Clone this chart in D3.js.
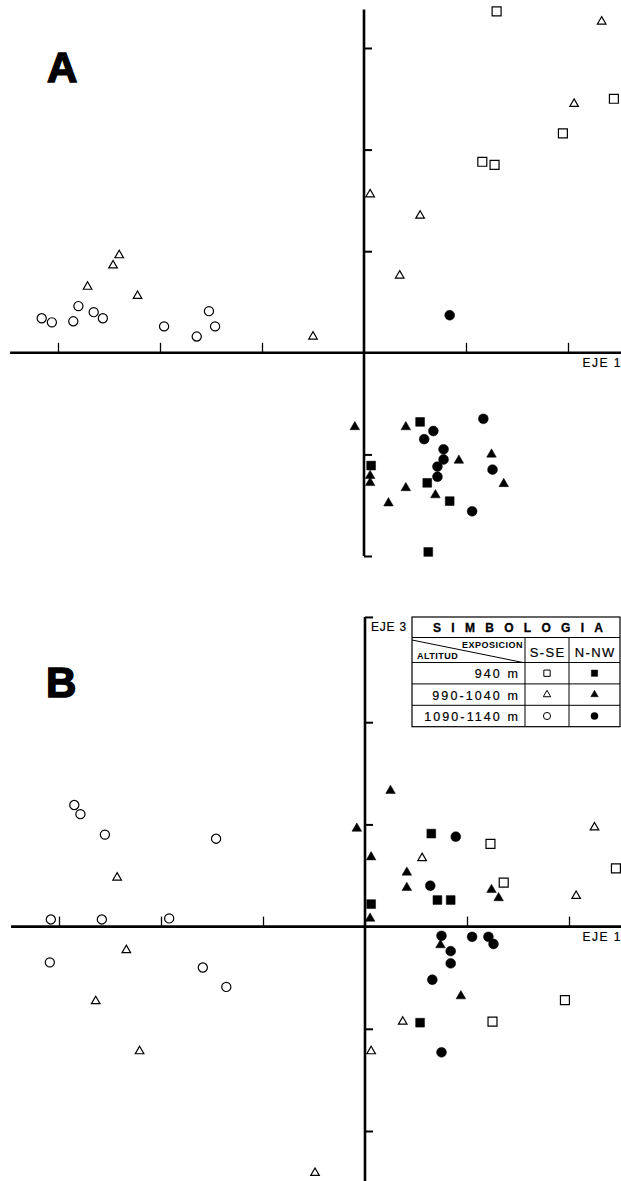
<!DOCTYPE html>
<html><head><meta charset="utf-8">
<script src="https://cdn.jsdelivr.net/npm/d3@7"></script>
<style>html,body{margin:0;padding:0;background:#fff}svg{display:block}</style>
</head><body>
<svg id="chart" width="621" height="1181"></svg>
<script>
// ---------- DATA (component scores) ----------
// Panel A: EJE 1 (x) vs EJE 2 (y)
const A_sq_open = [[1.30,3.36],[2.45,2.50],[1.95,2.16],[1.16,1.88],[1.28,1.85]];
const A_tri_open = [[-2.40,0.96],[-2.46,0.86],[-2.71,0.65],[-2.22,0.56],[-0.50,0.16],[0.06,1.56],[0.55,1.35],[0.35,0.76],[2.06,2.45],[2.33,3.26]];
const A_cir_open = [[-3.16,0.34],[-3.06,0.30],[-2.85,0.31],[-2.80,0.46],[-2.65,0.40],[-2.56,0.34],[-1.96,0.26],[-1.64,0.16],[-1.52,0.41],[-1.46,0.26]];
const A_sq_fill = [[0.55,-0.68],[0.07,-1.11],[0.62,-1.28],[0.84,-1.46],[0.63,-1.96]];
const A_tri_fill = [[-0.09,-0.73],[0.41,-0.73],[0.06,-1.21],[0.06,-1.28],[0.93,-1.06],[1.25,-1.00],[1.37,-1.29],[0.41,-1.33],[0.24,-1.48],[0.70,-1.40]];
const A_cir_fill = [[0.84,0.37],[1.17,-0.65],[0.68,-0.77],[0.59,-0.85],[0.78,-0.95],[0.78,-1.05],[0.72,-1.12],[0.72,-1.22],[1.26,-1.15],[1.06,-1.56]];
// Panel B: EJE 1 (x) vs EJE 3 (y)
const B_sq_open = [[1.23,0.81],[1.36,0.43],[2.46,0.57],[1.96,-0.72],[1.25,-0.93]];
const B_tri_open = [[-2.43,0.48],[-2.34,-0.23],[-2.64,-0.73],[-2.21,-1.22],[-0.49,-2.41],[0.56,0.67],[2.25,0.97],[2.07,0.30],[0.37,-0.93],[0.06,-1.22]];
const B_cir_open = [[-2.85,1.19],[-2.79,1.10],[-2.55,0.90],[-1.46,0.86],[-3.08,0.07],[-2.58,0.07],[-1.92,0.08],[-3.09,-0.35],[-1.59,-0.40],[-1.36,-0.59]];
const B_sq_fill = [[0.65,0.91],[0.71,0.26],[0.84,0.26],[0.06,0.22],[0.54,-0.94]];
const B_tri_fill = [[0.25,1.33],[-0.08,0.96],[0.06,0.68],[0.41,0.53],[0.41,0.38],[1.24,0.36],[1.31,0.28],[0.05,0.08],[0.74,-0.18],[0.94,-0.68]];
const B_cir_fill = [[0.89,0.88],[0.64,0.40],[0.75,-0.09],[1.05,-0.10],[1.21,-0.10],[1.26,-0.17],[0.84,-0.24],[0.84,-0.36],[0.66,-0.52],[0.75,-1.23]];

const xTicks = [-3,-2,-1,1,2];
const yTicksA = [-2,-1,1,2,3];
const yTicksB = [-2,-1,1,2,3.03];
const axisLabelX = "EJE 1";
const axisLabelYB = "EJE 3";
const legendTitle = "SIMBOLOGIA";
const legendRows = ["940 m","990-1040 m","1090-1140 m"];
const legendCols = ["S-SE","N-NW"];
const legendHeadTop = "EXPOSICION";
const legendHeadBottom = "ALTITUD";

// ---------- DRAW ----------
const svg = d3.select("#chart");
const font = "'Liberation Sans', Arial, sans-serif";

const panels = [
  {id:"A", x:d3.scaleLinear().domain([-3,2]).range([58,568]),
           y:d3.scaleLinear().domain([-2,3]).range([556,48]),
           yTop:3.38, yBot:-2, yTicks:yTicksA, letterPos:[47,82],
           series:[
             {d:A_sq_open, t:"sq", f:false},{d:A_tri_open, t:"tri", f:false},{d:A_cir_open, t:"cir", f:false},
             {d:A_sq_fill, t:"sq", f:true},{d:A_tri_fill, t:"tri", f:true},{d:A_cir_fill, t:"cir", f:true}]},
  {id:"B", x:d3.scaleLinear().domain([-3,2]).range([59,569]),
           y:d3.scaleLinear().domain([-2,3]).range([1131,620]),
           yTop:3.03, yBot:-2.6, yTicks:yTicksB, letterPos:[46,697],
           series:[
             {d:B_sq_open, t:"sq", f:false},{d:B_tri_open, t:"tri", f:false},{d:B_cir_open, t:"cir", f:false},
             {d:B_sq_fill, t:"sq", f:true},{d:B_tri_fill, t:"tri", f:true},{d:B_cir_fill, t:"cir", f:true}]}
];

const symType = {sq:d3.symbolSquare, tri:d3.symbolTriangle, cir:d3.symbolCircle};
const symSize = {sq:{o:80,f:78}, tri:{o:32,f:40}, cir:{o:66,f:76}};

panels.forEach(p => {
  const g = svg.append("g");
  const x0 = p.x(0), y0 = p.y(0);
  g.append("line").attr("x1", p.x(-3.47)).attr("x2", 621)
    .attr("y1", y0).attr("y2", y0).attr("stroke","#000").attr("stroke-width",2.6);
  g.append("line").attr("x1", x0).attr("x2", x0)
    .attr("y1", p.y(p.yTop)).attr("y2", p.y(p.yBot)).attr("stroke","#000").attr("stroke-width",2.6);
  const ax = d3.axisTop(p.x).tickValues(xTicks).tickSize(10).tickFormat("").tickSizeOuter(0);
  const gx = g.append("g").attr("transform",`translate(0,${y0})`).call(ax);
  gx.select(".domain").remove();
  gx.selectAll(".tick line").attr("stroke","#000").attr("stroke-width",1.3);
  const ay = d3.axisRight(p.y).tickValues(p.yTicks).tickSize(8).tickFormat("").tickSizeOuter(0);
  const gy = g.append("g").attr("transform",`translate(${x0},0)`).call(ay);
  gy.select(".domain").remove();
  gy.selectAll(".tick line").attr("stroke","#000").attr("stroke-width",2);
  g.append("text").attr("x",622).attr("y", y0+14.5).attr("text-anchor","end")
    .attr("font-family",font).attr("font-size",12).attr("letter-spacing",1.5)
    .attr("stroke","#000").attr("stroke-width",0.2).text(axisLabelX);
  g.append("text").attr("x",p.letterPos[0]).attr("y",p.letterPos[1])
    .attr("font-family",font).attr("font-weight","bold")
    .attr("font-size",42).attr("stroke","#000").attr("stroke-width",1.5).text(p.id);
  p.series.forEach(s => {
    g.append("g").selectAll("path").data(s.d).join("path")
      .attr("transform", d => `translate(${p.x(d[0])},${p.y(d[1])})`)
      .attr("d", d3.symbol().type(symType[s.t]).size(symSize[s.t][s.f?"f":"o"]))
      .attr("fill", s.f ? "#000" : "#fff")
      .attr("stroke", "#000").attr("stroke-width", s.f ? 0.5 : 1.2);
  });
});

svg.append("text").attr("x",371).attr("y",630.5).attr("font-family",font)
  .attr("font-size",12).attr("letter-spacing",0.8)
  .attr("stroke","#000").attr("stroke-width",0.2).text(axisLabelYB);

// ---------- LEGEND TABLE ----------
const L = {x0:412, x1:525, x2:569, x3:620, yT:617, yH:637.5, yR0:662.5, rowH:21.4};
const lg = svg.append("g").attr("font-family",font);
const rowsY = legendRows.map((r,i) => L.yR0 + i*L.rowH);
const yEnd = L.yR0 + legendRows.length*L.rowH;
lg.append("rect").attr("x",L.x0).attr("y",L.yT).attr("width",L.x3-L.x0).attr("height",yEnd-L.yT)
  .attr("fill","#fff").attr("stroke","#000").attr("stroke-width",1.2);
[L.yH, ...rowsY].forEach(y => lg.append("line").attr("x1",L.x0).attr("x2",L.x3).attr("y1",y).attr("y2",y)
  .attr("stroke","#000").attr("stroke-width",1));
[L.x1, L.x2].forEach(x => lg.append("line").attr("x1",x).attr("x2",x).attr("y1",L.yH).attr("y2",yEnd)
  .attr("stroke","#000").attr("stroke-width",1));
lg.append("line").attr("x1",L.x0).attr("y1",L.yH+2.5).attr("x2",L.x1-2).attr("y2",L.yR0)
  .attr("stroke","#000").attr("stroke-width",1);
lg.append("text").attr("x",433).attr("y",631.5).attr("font-size",12).attr("font-weight","bold")
  .attr("stroke","#000").attr("stroke-width",0.3)
  .attr("textLength",170).attr("lengthAdjust","spacing").text(legendTitle);
lg.append("text").attr("x",L.x1-2).attr("y",647.5).attr("text-anchor","end").attr("font-size",9)
  .attr("font-weight","bold").attr("letter-spacing",0.5).text(legendHeadTop);
lg.append("text").attr("x",L.x0+5).attr("y",659).attr("font-size",9)
  .attr("font-weight","bold").attr("letter-spacing",0.5).text(legendHeadBottom);
legendCols.forEach((c,j) => lg.append("text").attr("x", (j===0 ? (L.x1+L.x2)/2 : (L.x2+L.x3)/2) + 0.7).attr("y",656.5)
  .attr("text-anchor","middle").attr("font-size",13).attr("letter-spacing",1.4)
  .attr("stroke","#000").attr("stroke-width",0.2).text(c));
const legTypes = ["sq","tri","cir"];
const legSize = {sq:40, tri:24, cir:40};
legendRows.forEach((r,i) => {
  const cy = rowsY[i] + L.rowH/2;
  lg.append("text").attr("x",L.x1-5).attr("y",cy+5).attr("text-anchor","end")
    .attr("font-size",12.5).attr("letter-spacing",2.1)
    .attr("stroke","#000").attr("stroke-width",0.2).text(r);
  [false,true].forEach((f,j) => {
    lg.append("path").attr("transform",`translate(${j===0?(L.x1+L.x2)/2:(L.x2+L.x3)/2},${cy})`)
      .attr("d", d3.symbol().type(symType[legTypes[i]]).size(legSize[legTypes[i]]))
      .attr("fill", f ? "#000" : "#fff").attr("stroke","#000").attr("stroke-width", f?0.5:1);
  });
});
</script>
</body></html>
